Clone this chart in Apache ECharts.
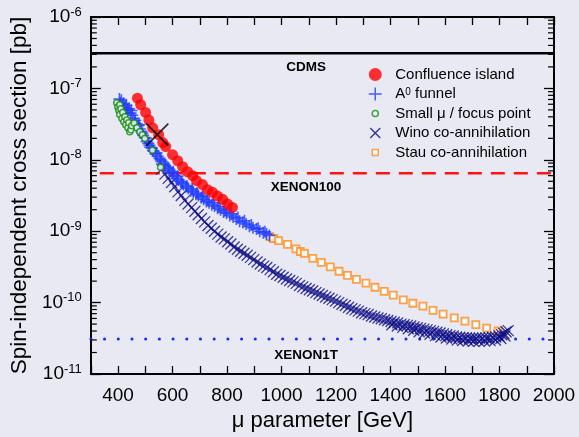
<!DOCTYPE html>
<html><head><meta charset="utf-8">
<script src="https://cdn.jsdelivr.net/npm/echarts@6/dist/echarts.min.js"></script>
<style>html,body{margin:0;padding:0;background:#e9e9f3}#c{width:579px;height:437px}</style>
</head><body><div id="c"></div>
<script>
// ---- data: [mu (GeV), sigma_SI (pb)] ----
const confluence = [[471,7.3e-8],[483,5.9e-8],[501,4.6e-8],[513,3.6e-8],[527,2.8e-8],[549,2.25e-8],[564,1.74e-8],[575,1.53e-8],[600,1.18e-8],[619,9.7e-9],[637,8.0e-9],[655,6.8e-9],[674,6.0e-9],[688,5.1e-9],[710,4.5e-9],[729,3.8e-9],[747,3.5e-9],[765,3.1e-9],[784,2.8e-9],[802,2.4e-9],[820,2.15e-9]];
const a0Funnel = [[405,7.1e-8],[408,6.3e-8],[412,6.8e-8],[415,5.9e-8],[420,6.2e-8],[425,5.5e-8],[430,5.8e-8],[436,5.0e-8],[441,5.2e-8],[446,4.5e-8],[452,4.2e-8],[458,3.8e-8],[463,3.55e-8],[468,3.2e-8],[474,3.0e-8],[480,2.7e-8],[486,2.5e-8],[492,2.2e-8],[498,2.05e-8],[505,1.8e-8],[511,1.7e-8],[518,1.5e-8],[524,1.45e-8],[531,1.32e-8],[538,1.2e-8],[545,1.12e-8],[552,1.05e-8],[559,9.5e-9],[566,8.9e-9],[574,8.1e-9],[582,7.8e-9],[590,7.1e-9],[598,6.5e-9],[606,6.0e-9],[614,5.5e-9],[622,5.2e-9],[631,4.9e-9],[640,4.5e-9],[649,4.2e-9],[658,4.0e-9],[667,3.7e-9],[676,3.55e-9],[686,3.3e-9],[695,3.15e-9],[705,2.95e-9],[714,2.8e-9],[724,2.6e-9],[734,2.5e-9],[744,2.35e-9],[754,2.25e-9],[765,2.1e-9],[776,2.0e-9],[787,1.85e-9],[798,1.78e-9],[810,1.66e-9],[822,1.58e-9],[834,1.48e-9],[846,1.38e-9],[858,1.32e-9],[870,1.26e-9],[882,1.17e-9],[895,1.12e-9],[908,1.07e-9],[920,1.0e-9],[933,9.5e-10],[945,9.1e-10],[955,8.7e-10],
  [418,5.3e-8],[433,4.6e-8],[449,4.9e-8],[461,3.3e-8],[477,3.1e-8],[489,2.35e-8],[502,2.0e-8],[515,1.6e-8],[528,1.35e-8],[541,1.25e-8],[556,1.0e-8],[570,8.4e-9],[586,7.5e-9],[602,6.8e-9],[618,5.9e-9],[635,4.7e-9],[653,4.3e-9],[672,3.9e-9],[690,3.4e-9],[710,3.1e-9],[729,2.7e-9],[749,2.5e-9],[770,2.2e-9],[792,1.95e-9],[816,1.75e-9],[840,1.55e-9],[864,1.4e-9],[889,1.22e-9],[914,1.1e-9],[939,9.8e-10]];
const smallMu = [[395,6.3e-8],[399,5.5e-8],[403,4.9e-8],[406,5.9e-8],[406,4.3e-8],[410,5.2e-8],[414,3.8e-8],[417,4.6e-8],[421,3.4e-8],[425,4.0e-8],[428,3.1e-8],[432,3.6e-8],[436,2.8e-8],[439,3.3e-8],[443,2.48e-8],[447,2.64e-8],[450,3.0e-8],
  [459,3.27e-8],[469,2.82e-8],[480,2.48e-8],[489,2.25e-8],[498,1.98e-8],[526,1.36e-8],[556,7.85e-9]];
const wino = [[560,7.4e-9],[572,6.3e-9],[584,5.5e-9],[596,4.8e-9],[608,4.2e-9],[620,3.55e-9],[632,3.16e-9],[645,2.7e-9],[657,2.4e-9],[670,2.14e-9],[682,1.9e-9],[694,1.7e-9],[706,1.51e-9],[718,1.35e-9],[730,1.2e-9],[742,1.1e-9],[754,1.0e-9],[766,9.1e-10],[778,8.3e-10],[790,7.8e-10],[802,7.1e-10],[814,6.6e-10],[826,6.0e-10],[838,5.6e-10],[850,5.25e-10],[862,4.9e-10],[874,4.6e-10],[886,4.3e-10],[898,4.0e-10],[910,3.7e-10],[922,3.47e-10],[934,3.24e-10],[946,3.1e-10],[958,2.9e-10],[970,2.7e-10],[982,2.5e-10],[994,2.4e-10],[1006,2.26e-10],[1018,2.14e-10],[1030,2.04e-10],[1042,1.95e-10],[1054,1.86e-10],[1066,1.74e-10],[1078,1.66e-10],[1090,1.58e-10],[1102,1.51e-10],[1114,1.45e-10],[1126,1.38e-10],[1138,1.32e-10],[1150,1.26e-10],[1162,1.2e-10],[1174,1.15e-10],[1186,1.1e-10],[1198,1.05e-10],[1210,1.0e-10],[1222,9.5e-11],[1234,9.1e-11],[1246,8.6e-11],[1258,8.2e-11],[1270,7.9e-11],[1282,7.6e-11],[1294,7.2e-11],[1306,7.0e-11],[1318,6.8e-11],[1330,6.5e-11],[1342,6.3e-11],[1354,6.1e-11],[1366,5.95e-11],[1378,5.75e-11],[1390,5.6e-11],[1402,5.45e-11],[1414,5.3e-11],[1426,5.2e-11],[1438,5.0e-11],[1450,4.9e-11],[1462,4.8e-11],[1474,4.7e-11],[1486,4.55e-11],[1498,4.45e-11],[1510,4.35e-11],[1522,4.25e-11],[1534,4.15e-11],[1546,4.05e-11],[1558,3.95e-11],[1570,3.85e-11],[1582,3.75e-11],[1594,3.65e-11],[1606,3.55e-11],[1618,3.45e-11],[1630,3.4e-11],[1642,3.3e-11],[1654,3.27e-11],[1666,3.23e-11],[1678,3.2e-11],[1690,3.16e-11],[1702,3.16e-11],[1714,3.16e-11],[1726,3.16e-11],[1738,3.16e-11],[1750,3.2e-11],[1762,3.23e-11],[1774,3.27e-11],[1786,3.3e-11],[1798,3.4e-11],[1808,3.55e-11],[1816,3.7e-11],[1824,3.9e-11],[1832,4.05e-11],
  [1405,4.9e-11],[1425,4.7e-11],[1445,4.5e-11],[1465,4.3e-11],[1485,4.1e-11],[1505,3.9e-11],[1525,3.75e-11],[1545,3.6e-11],[1565,3.45e-11],[1585,3.3e-11],[1605,3.2e-11],[1625,3.1e-11],[1645,3.0e-11],[1665,2.95e-11],[1685,2.9e-11],[1705,2.88e-11],[1725,2.88e-11],[1745,2.9e-11],[1765,2.95e-11],[1785,3.0e-11],[1805,3.15e-11],[1820,3.4e-11]];
const stau = [[957,8.4e-10],[971,7.9e-10],[989,7.4e-10],[1022,6.55e-10],[1053,5.66e-10],[1069,5.2e-10],[1084,4.9e-10],[1115,4.17e-10],[1146,3.66e-10],[1179,3.17e-10],[1211,2.75e-10],[1242,2.41e-10],[1275,2.12e-10],[1310,1.87e-10],[1343,1.64e-10],[1377,1.44e-10],[1410,1.27e-10],[1447,1.09e-10],[1482,9.8e-11],[1519,8.9e-11],[1556,7.8e-11],[1593,6.9e-11],[1634,6.1e-11],[1673,5.5e-11],[1713,4.9e-11],[1753,4.4e-11],[1795,4.0e-11]];
const benchmark = [[544,2.25e-8]];
// experimental limits (pb)
const cdmsLimit = 3.1e-7;
const xenon100Limit = 6.5e-9;
const xenon1tLimit = 3.1e-11;
// axes
const xMin = 300, xMax = 2000, xStep = 100;
const yMin = 1e-11, yMax = 1e-6;
const yMinorTicks = [];
for (let e = -11; e < -6; e++) for (let m = 2; m <= 9; m++) yMinorTicks.push(m * Math.pow(10, e));

const FONT = "'Liberation Sans', Arial, sans-serif";
const plusPath = 'path://M0,5L10,5M5,0L5,10';
const crossPath = 'path://M0,0L10,10M10,0L0,10';
const legPlus = 'path://M0,6.5L13,6.5M6.5,0L6.5,13';
const legCircle = 'path://M0,0M13,13M6.5,3.5A3,3,0,1,1,6.5,9.5A3,3,0,1,1,6.5,3.5Z';
const legCross = 'path://M0,0M13,13M1.5,1.5L11.5,11.5M11.5,1.5L1.5,11.5';
const legSquare = 'path://M0,0M13,13M3.5,3.5L9.5,3.5L9.5,9.5L3.5,9.5Z';

const chart = echarts.init(document.getElementById('c'), null, {renderer: 'canvas'});
const axisCommon = {
  axisLine: {show: true, onZero: false, lineStyle: {color: '#000', width: 2}},
  splitLine: {show: false}
};
function hline(name, v, style) {
  return {name, type: 'line', data: [[xMin, v], [xMax, v]], symbol: 'none', silent: true,
    lineStyle: style, z: 1};
}
const option = {
  animation: false,
  backgroundColor: '#e9e9f3',
  textStyle: {fontFamily: FONT},
  grid: {left: 90, right: 25, top: 17, bottom: 61.5, show: false},
  xAxis: [
    Object.assign({type: 'value', min: xMin, max: xMax, interval: xStep, position: 'bottom',
      axisTick: {inside: true, length: 8, lineStyle: {color: '#000', width: 1.3}},
      axisLabel: {fontSize: 19, color: '#000', fontFamily: FONT, margin: 12,
        formatter: v => (v % 200 === 0 ? String(v) : '')},
      name: 'μ parameter [GeV]', nameLocation: 'middle', nameGap: 36,
      nameTextStyle: {fontSize: 22, color: '#000', fontFamily: FONT}}, axisCommon),
    Object.assign({type: 'value', min: xMin, max: xMax, interval: xStep, position: 'top',
      axisTick: {inside: true, length: 8, lineStyle: {color: '#000', width: 1.3}},
      axisLabel: {show: false}}, axisCommon)
  ],
  yAxis: [
    Object.assign({type: 'log', logBase: 10, min: yMin, max: yMax, position: 'left',
      axisTick: {inside: true, length: 10, lineStyle: {color: '#000', width: 1.3}},
      axisLabel: {margin: 9, formatter: v => '{b|10}{s|' + Math.round(Math.log10(v)) + '}',
        rich: {b: {fontSize: 19, color: '#000', fontFamily: FONT},
               s: {fontSize: 13, color: '#000', fontFamily: FONT, padding: [0, 0, 10, 0]}}},
      name: 'Spin-independent cross section [pb]', nameLocation: 'middle', nameGap: 58,
      nameTextStyle: {fontSize: 22.5, color: '#000', fontFamily: FONT}}, axisCommon),
    Object.assign({type: 'log', logBase: 10, min: yMin, max: yMax, position: 'right',
      axisTick: {inside: true, length: 10, lineStyle: {color: '#000', width: 1.3}},
      axisLabel: {show: false}}, axisCommon)
  ],
  legend: {
    orient: 'vertical', left: 368, top: 67, itemWidth: 30, itemHeight: 13, itemGap: 4.5,
    padding: 0,
    textStyle: {fontSize: 15, color: '#000', fontFamily: FONT,
      rich: {t: {fontSize: 15, lineHeight: 13, color: '#000', fontFamily: FONT},
             sup: {fontSize: 10, lineHeight: 10, color: '#000', fontFamily: FONT, verticalAlign: 'top', padding: [0, 0, 4, 0]}}},
    formatter: n => n === 'A0 funnel' ? '{t|A}{sup|0}{t| funnel}' : '{t|' + n + '}',
    data: [
      {name: 'Confluence island', icon: 'circle', itemStyle: {color: '#ff0000', borderWidth: 0}},
      {name: 'A0 funnel', icon: legPlus, itemStyle: {color: 'rgba(0,0,0,0)', borderColor: '#1f3bff', borderWidth: 1.5}},
      {name: 'Small μ / focus point', icon: legCircle, itemStyle: {color: '#ffffff', borderColor: '#118a11', borderWidth: 1.5}},
      {name: 'Wino co-annihilation', icon: legCross, itemStyle: {color: 'rgba(0,0,0,0)', borderColor: '#0c0c85', borderWidth: 1.5}},
      {name: 'Stau co-annihilation', icon: legSquare, itemStyle: {color: '#ffffff', borderColor: '#ff8c1a', borderWidth: 1.5}}
    ]
  },
  series: [
    {type: 'custom', silent: true, xAxisIndex: 0, yAxisIndex: 0, z: 5,
      data: yMinorTicks.map(v => [xMin, v]),
      renderItem: (params, api) => {
        const y = api.coord([xMin, api.value(1)])[1];
        const cs = params.coordSys;
        return {type: 'group', children: [
          {type: 'line', shape: {x1: cs.x, y1: y, x2: cs.x + 6, y2: y}, style: {stroke: '#000', lineWidth: 1.2}},
          {type: 'line', shape: {x1: cs.x + cs.width - 6, y1: y, x2: cs.x + cs.width, y2: y}, style: {stroke: '#000', lineWidth: 1.2}}
        ]};
      }},
    hline('CDMS', cdmsLimit, {color: '#000', width: 2.5}),
    hline('XENON100', xenon100Limit, {color: '#ff1414', width: 2.5, type: [14, 9], dashOffset: -9}),
    hline('XENON1T', xenon1tLimit, {color: '#1a2cff', width: 3, type: [0.1, 13.6], cap: 'round'}),
    {name: 'Stau co-annihilation', type: 'scatter', data: stau, symbol: 'rect', symbolSize: 7, z: 3,
      itemStyle: {color: '#ffffff', borderColor: '#ff8c1a', borderWidth: 1.8}},
    {name: 'Wino co-annihilation', type: 'scatter', data: wino, symbol: crossPath, symbolSize: 11, z: 3,
      itemStyle: {color: 'rgba(0,0,0,0)', borderColor: '#0c0c85', borderWidth: 1.3}},
    {name: 'A0 funnel', type: 'scatter', data: a0Funnel, symbol: plusPath, symbolSize: 12, z: 3,
      itemStyle: {color: 'rgba(0,0,0,0)', borderColor: '#1f3bff', borderWidth: 1.6}},
    {name: 'Small μ / focus point', type: 'scatter', data: smallMu, symbol: 'circle', symbolSize: 6, z: 3,
      itemStyle: {color: '#ffffff', borderColor: '#118a11', borderWidth: 1.5}},
    {name: 'Confluence island', type: 'scatter', data: confluence, symbol: 'circle', symbolSize: 11, z: 3,
      itemStyle: {color: '#ff0000'}},
    {name: 'benchmark', type: 'scatter', data: benchmark, symbol: crossPath, symbolSize: 22, z: 4,
      itemStyle: {color: 'rgba(0,0,0,0)', borderColor: '#000', borderWidth: 1.8}}
  ]
};
chart.setOption(option);
// limit labels placed relative to their lines
const labelMu = 1090;
const labels = [['CDMS', cdmsLimit, 14], ['XENON100', xenon100Limit, 14], ['XENON1T', xenon1tLimit, 16]];
chart.setOption({graphic: labels.map(([t, v, dy]) => {
  const p = chart.convertToPixel({xAxisIndex: 0, yAxisIndex: 0}, [labelMu, v]);
  return {type: 'text', x: p[0], y: p[1] + dy, z: 10,
    style: {text: t, font: 'bold 13.5px ' + FONT, fill: '#000', align: 'center', verticalAlign: 'middle'}};
})});
</script></body></html>
